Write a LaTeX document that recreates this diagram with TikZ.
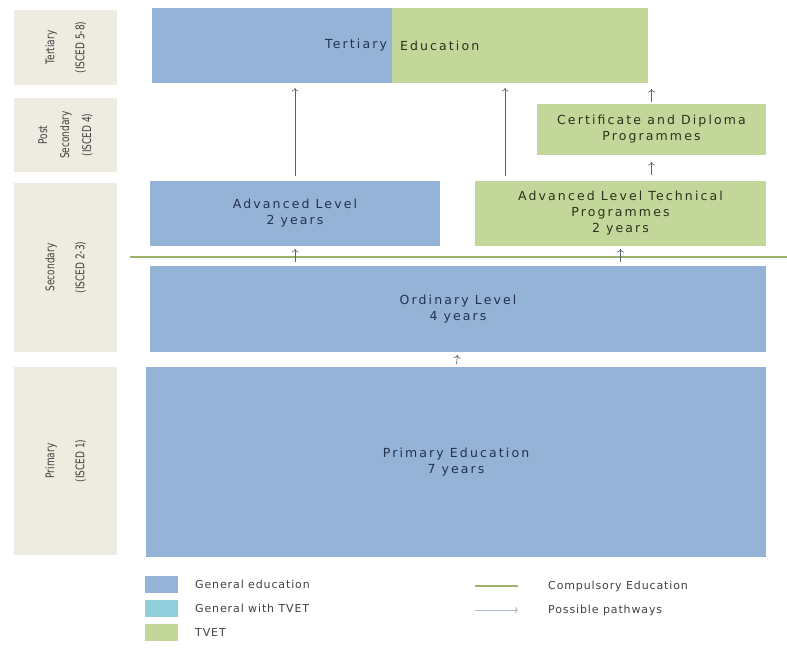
\documentclass[tikz,border=0pt]{standalone}
\usepackage{fontspec}
\setmainfont{DejaVu Sans}[LetterSpace=17]
\newfontfamily\legendfont{DejaVu Sans}[LetterSpace=8]
\newfontfamily\sidefont{DejaVu Sans}[FakeStretch=0.75]
\usetikzlibrary{positioning, arrows.meta}

\definecolor{genblue}{HTML}{95B3D7}
\definecolor{tvetgreen}{HTML}{C4D79B}
\definecolor{mixblue}{HTML}{92CDDC}
\definecolor{sidegray}{HTML}{EEECE1}
\definecolor{navytext}{HTML}{22324F}
\definecolor{olivetext}{HTML}{2C321C}
\definecolor{linegreen}{HTML}{9DB16A}
\definecolor{arrowgray}{HTML}{56626F}
\definecolor{legendarrow}{HTML}{A9B7CB}

\begin{document}
\begin{tikzpicture}[
    x=1pt, y=-1pt,
    box/.style={
        rectangle,
        inner sep=0pt,
        outer sep=0pt,
        align=center,
        text=navytext,
        font=\fontsize{12.5}{16}\selectfont
    },
    general/.style={box, fill=genblue},
    tvet/.style={box, fill=tvetgreen, text=olivetext},
    side/.style={
        rectangle,
        fill=sidegray,
        inner sep=0pt,
        outer sep=0pt,
        minimum height=103pt,
        rotate=90,
        align=center,
        text=black!75,
        font=\sidefont\fontsize{12}{30}\selectfont
    },
    swatch/.style={minimum width=33pt, minimum height=17pt, inner sep=0pt, outer sep=0pt},
    legend/.style={font=\legendfont\fontsize{11}{13}\selectfont, text=black!75, inner sep=0pt},
    pathway/.style={-{To[length=3.5pt, width=7pt]}, draw=arrowgray, semithick, shorten >=4pt, shorten <=4pt},
    compulsory/.style={draw=linegreen, line width=2.5pt}
]
\useasboundingbox (0,0) rectangle (787,653);

% ISCED levels — left column
\node[side, minimum width=75pt]  (sTert) at (65.5, 47.5)  {Tertiary\\(ISCED 5-8)};
\node[side, minimum width=74pt, font=\sidefont\fontsize{12}{22}\selectfont]
                                 (sPost) at (65.5, 135)   {Post\\Secondary\\(ISCED 4)};
\node[side, minimum width=169pt] (sSec)  at (65.5, 267.5) {Secondary\\(ISCED 2-3)};
\node[side, minimum width=188pt] (sPrim) at (65.5, 461)   {Primary\\(ISCED 1)};

% Tertiary, split in two colours
\node[general, minimum width=240pt, minimum height=75pt, text width=230pt, align=right]
    (tertGen)  at (272, 45.5) {Tertiary};
\node[tvet, minimum width=256pt, minimum height=75pt, text width=240pt, align=left]
    (tertTvet) at (520, 45.5) {Education};

% Post secondary and upper secondary
\node[tvet, minimum width=229pt, minimum height=51pt] (cert)    at (651.5, 129.5) {Certificate and Diploma\\Programmes};
\node[general, minimum width=290pt, minimum height=65pt] (advGen)  at (295, 213.5)   {Advanced Level\\2 years};
\node[tvet, minimum width=291pt, minimum height=65pt] (advTech) at (620.5, 213.5) {Advanced Level Technical\\Programmes\\2 years};

% Lower secondary and primary
\node[general, minimum width=616pt, minimum height=86pt]  (ordinary) at (458, 309) {Ordinary Level\\4 years};
\node[general, minimum width=620pt, minimum height=190pt] (primary)  at (456, 462) {Primary Education\\7 years};

% Compulsory education limit
\coordinate (cmpL) at (130, 257);
\coordinate (cmpR) at (787, 257);
\draw[compulsory] (cmpL) -- (cmpR);

% Pathways
\draw[pathway, shorten >=5pt, shorten <=5pt] (advGen.north) -- (advGen.north |- tertGen.south);
\draw[pathway, shorten >=5pt, shorten <=5pt] ([xshift=30pt]advTech.north west) -- ([xshift=30pt]advTech.north west |- tertTvet.south);
\draw[pathway, shorten >=6pt, shorten <=2pt] (cert.north) -- (cert.north |- tertTvet.south);
\draw[pathway, shorten >=7pt, shorten <=6pt] (cert.south |- advTech.north) -- (cert.south);
\draw[pathway, shorten >=3pt] (advGen.south |- ordinary.north) -- (advGen.south);
\draw[pathway, shorten >=3pt] (advTech.south |- ordinary.north) -- (advTech.south);
\draw[pathway, shorten >=3pt, shorten <=3pt] (primary.north) -- (ordinary.south);

% Legend
\node[swatch, fill=genblue]   (swGen)  at (161.5, 584.5) {};
\node[swatch, fill=mixblue]   (swMix)  at (161.5, 608.5) {};
\node[swatch, fill=tvetgreen] (swTvet) at (161.5, 632.5) {};
\node[legend, right=17pt of swGen]  (lbGen)  {General education};
\node[legend, right=17pt of swMix]  (lbMix)  {General with TVET};
\node[legend, right=17pt of swTvet] (lbTvet) {TVET};

\coordinate (keyA) at (475, 586);
\coordinate (keyB) at (518, 586);
\draw[draw=linegreen, line width=1.8pt] (keyA) -- (keyB);
\node[legend, right=30pt of keyB] (lbComp) {Compulsory Education};

\coordinate (keyC) at (475, 610);
\coordinate (keyD) at (518, 610);
\draw[-{To[length=3pt, width=6pt]}, draw=legendarrow, thick] (keyC) -- (keyD);
\node[legend, right=30pt of keyD] (lbPath) {Possible pathways};

\end{tikzpicture}
\end{document}
